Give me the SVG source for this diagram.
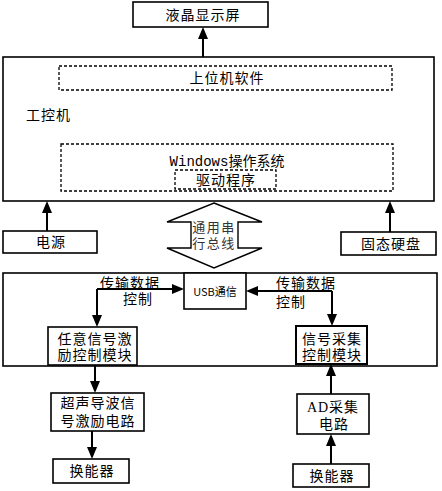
<svg xmlns="http://www.w3.org/2000/svg" width="442" height="491" viewBox="0 0 442 491">
<style>
.box{fill:#fff;stroke:#000;stroke-width:1.6}
.dash{fill:none;stroke:#000;stroke-width:1.3;stroke-dasharray:3,2}
.hollow{fill:#fff;stroke:#000;stroke-width:1.4}
.t{font-family:"Noto Sans CJK SC","Liberation Sans",sans-serif;font-size:14px;letter-spacing:1px;fill:#000;text-anchor:middle}
.l{text-anchor:start}
.con{fill:none;stroke:#000;stroke-width:2;marker-end:url(#ah)}
</style>
<defs>
<marker id="ah" viewBox="0 0 12 10" refX="6" refY="5" markerWidth="12" markerHeight="10" markerUnits="userSpaceOnUse" orient="auto">
<path d="M0,0 L12,5 L0,10 z" fill="#000"/>
</marker>
</defs>

<g id="ipc">
<rect class="box" x="3" y="57" width="431" height="144"/>
<text class="t l" x="26" y="120">工控机</text>
</g>
<g id="lcd">
<rect class="box" x="133" y="2" width="135" height="25"/>
<text class="t" x="203" y="20">液晶显示屏</text>
</g>
<g id="software">
<rect class="dash" x="59" y="66" width="333" height="24"/>
<text class="t" x="227" y="83">上位机软件</text>
</g>
<g id="os">
<rect class="dash" x="61" y="144" width="332" height="47"/>
<text class="t" x="227" y="166" style="letter-spacing:0"><tspan style="font-family:'Liberation Mono',monospace">Windows</tspan>操作系统</text>
</g>
<g id="driver">
<rect class="dash" x="175" y="170" width="101" height="19"/>
<text class="t" x="226" y="185">驱动程序</text>
</g>
<g id="power">
<rect class="box" x="3" y="231" width="94" height="22"/>
<text class="t" x="51" y="247">电源</text>
</g>
<g id="ssd">
<rect class="box" x="341" y="232" width="95" height="23"/>
<text class="t" x="391" y="248.5">固态硬盘</text>
</g>
<g id="bus">
<polygon class="hollow" points="214,203 262,222 238,222 238,248 262,248 214,268 167,248 191,248 191,222 167,222"/>
<text class="t" x="214" y="232" style="fill:#333;font-size:13px;letter-spacing:1.5px">通用串</text>
<text class="t" x="214" y="248" style="fill:#333;font-size:13px;letter-spacing:1.5px">行总线</text>
</g>
<g id="acq">
<rect class="box" x="3" y="273" width="434" height="93"/>
</g>
<g id="usb">
<rect class="box" x="184" y="273" width="62" height="36"/>
<text class="t" x="215" y="296" style="font-size:11px;letter-spacing:0">USB通信</text>
</g>
<g id="excite-ctrl">
<rect class="box" x="48" y="327" width="89" height="38"/>
<text class="t" x="95" y="343.5">任意信号激</text>
<text class="t" x="95" y="360">励控制模块</text>
</g>
<g id="sample-ctrl">
<rect class="box" x="296" y="326" width="71" height="38" style="stroke-width:2"/>
<text class="t" x="332" y="343.5">信号采集</text>
<text class="t" x="332" y="360">控制模块</text>
</g>
<g id="excite-circuit">
<rect class="box" x="51" y="393" width="93" height="38"/>
<text class="t" x="98" y="408">超声导波信</text>
<text class="t" x="98" y="425.5">号激励电路</text>
</g>
<g id="tx">
<rect class="box" x="53" y="459" width="76" height="24"/>
<text class="t" x="92" y="476">换能器</text>
</g>
<g id="ad">
<rect class="box" x="297" y="394" width="72" height="40"/>
<text class="t" x="333" y="412"><tspan style="font-family:'Liberation Serif',serif">AD</tspan>采集</text>
<text class="t" x="334" y="428.5">电路</text>
</g>
<g id="rx">
<rect class="box" x="293" y="464" width="76" height="23"/>
<text class="t" x="332" y="480.5">换能器</text>
</g>

<g id="connectors">
<path class="con" d="M203,57 V33"/>
<path class="con" d="M47,231 V207"/>
<path class="con" d="M390,232 V207"/>
<path class="con" d="M97,289 H178"/>
<path class="con" d="M97,289 V321"/>
<path class="con" d="M332,291 H252"/>
<path class="con" d="M332,291 V320"/>
<path class="con" d="M95,365 V387"/>
<path class="con" d="M92,431 V453"/>
<path class="con" d="M331,464 V440"/>
<path class="con" d="M331,394 V370"/>
<text class="t" x="130" y="287.5">传输数据</text>
<text class="t" x="138" y="304">控制</text>
<text class="t" x="306" y="287.5">传输数据</text>
<text class="t" x="291" y="307">控制</text>
</g>
</svg>
